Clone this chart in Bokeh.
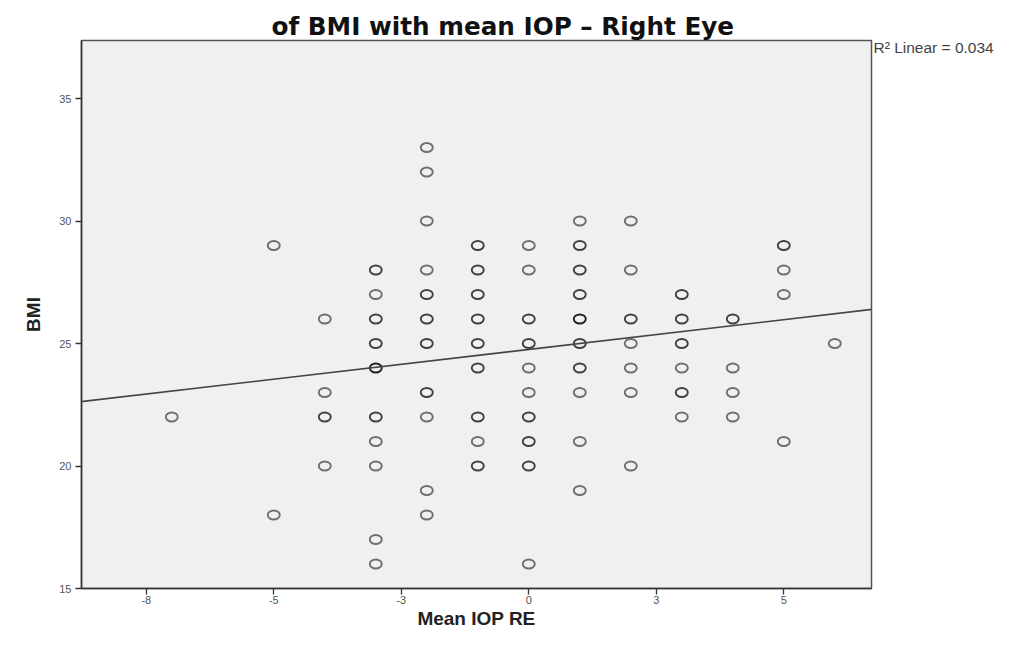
from bokeh.plotting import figure
from bokeh.models import Range1d, FixedTicker, Label, Slope, ColumnDataSource
from bokeh.embed import file_html
from bokeh.resources import INLINE

# ---- data ----
iop_values = [-7,
              -5, -5,
              -4, -4, -4, -4,
              -3, -3, -3, -3, -3, -3, -3, -3, -3, -3,
              -2, -2, -2, -2, -2, -2, -2, -2, -2, -2, -2,
              -1, -1, -1, -1, -1, -1, -1, -1, -1,
              0, 0, 0, 0, 0, 0, 0, 0, 0, 0,
              1, 1, 1, 1, 1, 1, 1, 1, 1, 1,
              2, 2, 2, 2, 2, 2, 2,
              3, 3, 3, 3, 3, 3,
              4, 4, 4, 4,
              5, 5, 5, 5,
              6]
bmi_values = [22,
              29, 18,
              26, 23, 22, 20,
              28, 27, 26, 25, 24, 22, 21, 20, 17, 16,
              33, 32, 30, 28, 27, 26, 25, 23, 22, 19, 18,
              29, 28, 27, 26, 25, 24, 22, 21, 20,
              29, 28, 26, 25, 24, 23, 22, 21, 20, 16,
              30, 29, 28, 27, 26, 25, 24, 23, 21, 19,
              30, 28, 26, 25, 24, 23, 20,
              27, 26, 25, 24, 23, 22,
              26, 24, 23, 22,
              29, 28, 27, 21,
              25]
# estimated number of overlapping cases at each plotted position
case_counts = [1,
               1, 1,
               1, 1, 2, 1,
               2, 1, 2, 2, 3, 2, 1, 1, 1, 1,
               1, 1, 1, 1, 2, 2, 2, 2, 1, 1, 1,
               2, 2, 2, 2, 2, 2, 2, 1, 2,
               1, 1, 2, 2, 1, 1, 2, 2, 2, 1,
               1, 2, 2, 2, 3, 2, 2, 1, 1, 1,
               1, 1, 2, 1, 1, 1, 1,
               2, 2, 2, 1, 2, 1,
               2, 1, 1, 1,
               2, 1, 1, 1,
               1]

fit_slope = 0.243
fit_intercept = 24.76
r2_text = "R\u00b2 Linear = 0.034"

x_tick_values = [-7.5, -5, -2.5, 0, 2.5, 5]
x_tick_labels = ["-8", "-5", "-3", "0", "3", "5"]
y_tick_values = [15, 20, 25, 30, 35]

title_text = "of BMI with mean IOP \u2013 Right Eye"
x_title = "Mean IOP RE"
y_title = "BMI"

# ---- figure ----
shade = {1: "#6e6e6e", 2: "#404040", 3: "#1e1e1e"}
src = ColumnDataSource(dict(x=iop_values, y=bmi_values,
                            c=[shade[min(n, 3)] for n in case_counts]))

p = figure(width=996, height=630, output_backend="svg", toolbar_location=None,
           x_range=Range1d(-8.77, 6.72), y_range=Range1d(15, 37.37),
           min_border_left=81, min_border_right=125, min_border_top=40,
           min_border_bottom=42)
p.frame_width = 790
p.frame_height = 548

p.title.text = title_text
p.title.align = "left"
p.title.offset = 190
p.title.standoff = 0
p.title.text_font = "DejaVu Sans"
p.title.text_font_size = "24.7px"
p.title.text_font_style = "bold"
p.title.text_color = "#111111"

p.background_fill_color = "#f0f0f0"
p.border_fill_color = "white"
p.outline_line_color = "#555555"
p.outline_line_width = 1.5
p.grid.visible = False

p.ellipse(x="x", y="y", width=12, height=9, width_units="screen", height_units="screen",
          fill_color=None, line_color="c", line_width=1.9, source=src)

p.add_layout(Slope(gradient=fit_slope, y_intercept=fit_intercept,
                   line_color="#444444", line_width=1.6))

p.add_layout(Label(x=2, y=541, x_units="screen", y_units="screen", text=r2_text,
                   text_font="Liberation Sans", text_font_size="15.5px",
                   text_color="#444444", text_baseline="middle", text_align="left"),
             "right")

for ax in (p.xaxis[0], p.yaxis[0]):
    ax.axis_line_color = "#333333"
    ax.axis_line_width = 1.5
    ax.major_tick_line_color = "#333333"
    ax.major_tick_line_width = 1.3
    ax.major_tick_in = 0
    ax.major_tick_out = 6
    ax.minor_tick_line_color = None
    ax.major_label_text_font = "Liberation Sans"
    ax.major_label_text_font_size = "11px"
    ax.major_label_text_color = "#555555"
    ax.axis_label_text_font = "Liberation Sans"
    ax.axis_label_text_font_style = "bold"
    ax.axis_label_text_font_size = "19px"
    ax.axis_label_text_color = "#222222"

p.xaxis.ticker = FixedTicker(ticks=x_tick_values)
p.xaxis.major_label_overrides = dict(zip(x_tick_values, x_tick_labels))
p.xaxis.axis_label = x_title
p.xaxis.major_label_standoff = 1
p.xaxis.axis_label_standoff = 1

p.yaxis.ticker = FixedTicker(ticks=y_tick_values)
p.yaxis.axis_label = y_title
p.yaxis.major_label_standoff = 4
p.yaxis.axis_label_standoff = 12
p.yaxis.major_label_orientation = "horizontal"

open("out.html", "w").write(file_html(p, INLINE))
